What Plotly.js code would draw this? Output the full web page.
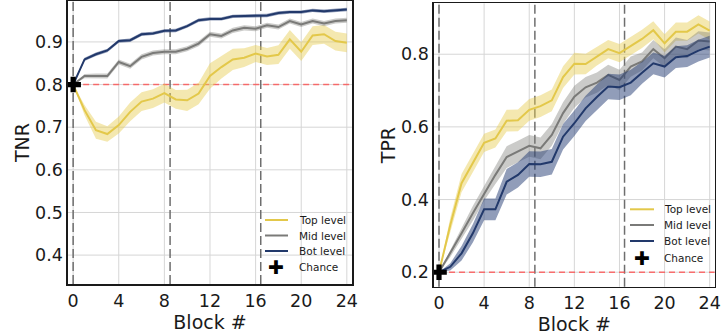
<!DOCTYPE html>
<html>
<head>
<meta charset="utf-8">
<script src="https://cdn.plot.ly/plotly-3.0.1.min.js"></script>
<style>
  html, body { margin: 0; padding: 0; background: #fff; }
  #chart { width: 722px; height: 335px; }
</style>
</head>
<body>
<div id="chart"></div>
<script>
// ---------- data ----------
const blocks = [0,1,2,3,4,5,6,7,8,9,10,11,12,13,14,15,16,17,18,19,20,21,22,23,24];

const tnrTop    = [0.800,0.740,0.693,0.684,0.705,0.736,0.760,0.767,0.780,0.765,0.763,0.779,0.820,0.841,0.859,0.863,0.873,0.866,0.870,0.906,0.877,0.915,0.918,0.902,0.898];
const tnrTopErr = [0.000,0.012,0.020,0.018,0.020,0.022,0.022,0.022,0.022,0.022,0.025,0.025,0.030,0.027,0.025,0.022,0.020,0.020,0.022,0.022,0.022,0.022,0.022,0.022,0.022];
const tnrMid    = [0.800,0.820,0.820,0.820,0.853,0.843,0.865,0.874,0.877,0.877,0.884,0.896,0.918,0.914,0.927,0.933,0.931,0.939,0.935,0.949,0.941,0.949,0.943,0.949,0.951];
const tnrMidErr = [0.000,0.005,0.006,0.006,0.006,0.006,0.006,0.006,0.006,0.006,0.006,0.006,0.006,0.006,0.006,0.006,0.006,0.006,0.006,0.006,0.006,0.006,0.006,0.006,0.006];
const tnrBot    = [0.800,0.859,0.871,0.880,0.902,0.904,0.918,0.920,0.926,0.927,0.937,0.951,0.954,0.954,0.960,0.961,0.962,0.962,0.968,0.970,0.970,0.974,0.972,0.974,0.976];
const tnrBotErr = [0.000,0.004,0.004,0.004,0.004,0.004,0.004,0.004,0.004,0.004,0.004,0.004,0.004,0.004,0.004,0.004,0.004,0.004,0.004,0.004,0.004,0.004,0.004,0.004,0.004];

const tprTop    = [0.200,0.330,0.445,0.500,0.556,0.568,0.617,0.618,0.647,0.657,0.673,0.737,0.774,0.773,0.794,0.814,0.803,0.822,0.842,0.866,0.830,0.862,0.862,0.882,0.865];
const tprTopErr = [0.000,0.020,0.025,0.025,0.025,0.025,0.030,0.030,0.030,0.030,0.030,0.030,0.030,0.028,0.025,0.025,0.025,0.025,0.025,0.025,0.025,0.025,0.025,0.025,0.025];
const tprMid    = [0.200,0.252,0.307,0.362,0.417,0.468,0.517,0.532,0.548,0.541,0.578,0.638,0.683,0.709,0.722,0.743,0.729,0.766,0.780,0.814,0.789,0.821,0.814,0.838,0.835];
const tprMidErr = [0.000,0.010,0.015,0.020,0.020,0.025,0.030,0.030,0.030,0.030,0.030,0.030,0.030,0.028,0.028,0.028,0.028,0.028,0.025,0.025,0.025,0.025,0.025,0.025,0.025];
const tprBot    = [0.200,0.215,0.252,0.307,0.373,0.373,0.449,0.468,0.498,0.497,0.504,0.573,0.610,0.651,0.682,0.711,0.709,0.722,0.749,0.775,0.766,0.792,0.795,0.810,0.821];
const tprBotErr = [0.000,0.010,0.020,0.025,0.030,0.030,0.035,0.035,0.035,0.035,0.035,0.035,0.035,0.035,0.035,0.035,0.035,0.035,0.030,0.030,0.030,0.030,0.030,0.030,0.030];

const seriesNames = ['Top level', 'Mid level', 'Bot level'];
const chanceName = 'Chance';
const chanceTNR = 0.8;
const chanceTPR = 0.2;
const phaseBoundaries = [0, 8.5, 16.45];
const xTicks = [0, 4, 8, 12, 16, 20, 24];
const tnrTicks = [0.4, 0.5, 0.6, 0.7, 0.8, 0.9];
const tprTicks = [0.2, 0.4, 0.6, 0.8];

// ---------- styles ----------
const W = 722, H = 335;
const lineColors = ['#e3c84a', '#7a7a78', '#22396b'];
const bandColors = ['rgba(230,205,80,0.45)', 'rgba(125,125,120,0.40)', 'rgba(35,60,115,0.50)'];
const FONT = 'DejaVu Sans, sans-serif';
const INK = '#1a1a1a';

function bandTrace(x, y, err, color, xa, ya) {
  const up = y.map((v, i) => v + err[i]);
  const lo = y.map((v, i) => v - err[i]);
  return {
    x: x.concat(x.slice().reverse()),
    y: up.concat(lo.slice().reverse()),
    xaxis: xa, yaxis: ya,
    type: 'scatter', mode: 'lines', fill: 'toself',
    fillcolor: color, line: {width: 0}, hoverinfo: 'skip', showlegend: false
  };
}
function lineTrace(x, y, name, color, xa, ya) {
  return {
    x: x, y: y, name: name, xaxis: xa, yaxis: ya, showlegend: false,
    type: 'scatter', mode: 'lines', line: {color: color, width: 2}
  };
}

const traces = [];
const tnrSets = [[tnrTop, tnrTopErr], [tnrMid, tnrMidErr], [tnrBot, tnrBotErr]];
const tprSets = [[tprTop, tprTopErr], [tprMid, tprMidErr], [tprBot, tprBotErr]];
tnrSets.forEach((s, i) => {
  traces.push(bandTrace(blocks, s[0], s[1], bandColors[i], 'x', 'y'));
  traces.push(lineTrace(blocks, s[0], seriesNames[i], lineColors[i], 'x', 'y'));
});
traces.push({x: [blocks[0]], y: [chanceTNR], name: chanceName, xaxis: 'x', yaxis: 'y', showlegend: false,
  type: 'scatter', mode: 'markers', marker: {symbol: 'cross', size: 13, color: '#000'}});
tprSets.forEach((s, i) => {
  traces.push(bandTrace(blocks, s[0], s[1], bandColors[i], 'x2', 'y2'));
  traces.push(lineTrace(blocks, s[0], seriesNames[i], lineColors[i], 'x2', 'y2'));
});
traces.push({x: [blocks[0]], y: [chanceTPR], name: chanceName, xaxis: 'x2', yaxis: 'y2', showlegend: false,
  type: 'scatter', mode: 'markers', marker: {symbol: 'cross', size: 13, color: '#000'}});

function xAxis(domain, anchor) {
  return {
    domain: domain, anchor: anchor, range: [-0.45, 24.45],
    tickmode: 'array', tickvals: xTicks, ticks: '', ticklabeloverflow: 'allow',
    showgrid: false, zeroline: false,
    showline: true, mirror: true, linecolor: INK, linewidth: 1.6,
    tickfont: {family: FONT, size: 17.5, color: INK},
    title: {text: 'Block #', font: {family: FONT, size: 19, color: INK}, standoff: 0}
  };
}
function yAxis(domain, anchor, range, ticks, title) {
  return {
    domain: domain, anchor: anchor, range: range,
    tickmode: 'array', tickvals: ticks, ticks: '', ticklabeloverflow: 'allow',
    showgrid: false, zeroline: false,
    showline: true, mirror: true, linecolor: INK, linewidth: 1.6,
    tickfont: {family: FONT, size: 17.5, color: INK},
    title: {text: title, font: {family: FONT, size: 19, color: INK}, standoff: 0}
  };
}

// ---------- grid, phase boundaries and chance line (drawn below the data) ----------
const shapes = [];
const annotations = [];
const panels = [
  {xa: 'x', ya: 'y', yTicks: tnrTicks, chance: chanceTNR},
  {xa: 'x2', ya: 'y2', yTicks: tprTicks, chance: chanceTPR}
];
panels.forEach(p => {
  xTicks.forEach(t => shapes.push({
    type: 'line', xref: p.xa, yref: p.ya + ' domain', x0: t, x1: t, y0: 0, y1: 1,
    line: {color: '#d6d6d6', width: 1}, layer: 'below'
  }));
  p.yTicks.forEach(t => shapes.push({
    type: 'line', xref: p.xa + ' domain', yref: p.ya, x0: 0, x1: 1, y0: t, y1: t,
    line: {color: '#d6d6d6', width: 1}, layer: 'below'
  }));
  phaseBoundaries.forEach(b => shapes.push({
    type: 'line', xref: p.xa, yref: p.ya + ' domain', x0: b, x1: b, y0: 0, y1: 1,
    line: {color: '#6e6e6e', width: 1.5, dash: '9px,4px'}, layer: 'below'
  }));
  shapes.push({
    type: 'line', xref: p.xa, yref: p.ya, x0: blocks[0], x1: 24.45, y0: p.chance, y1: p.chance,
    line: {color: 'rgba(255,70,70,0.75)', width: 1.5, dash: '6px,4px'}, layer: 'below'
  });
});

// ---------- legends (frameless, lower right of each panel) ----------
const legendBoxes = [
  {lineX0: 265, lineX1: 288, textX: 297, markX: 276, rows: [220, 235.5, 251, 267]},
  {lineX0: 630, lineX1: 654, textX: 662, markX: 642, rows: [209.3, 225, 241, 257.7]}
];
legendBoxes.forEach(lb => {
  seriesNames.forEach((name, i) => {
    shapes.push({
      type: 'line', xref: 'paper', yref: 'paper',
      x0: lb.lineX0 / W, x1: lb.lineX1 / W, y0: 1 - lb.rows[i] / H, y1: 1 - lb.rows[i] / H,
      line: {color: lineColors[i], width: 2}, layer: 'above'
    });
    annotations.push({
      xref: 'paper', yref: 'paper', x: lb.textX / W, y: 1 - lb.rows[i] / H,
      xanchor: 'left', yanchor: 'middle', showarrow: false, text: name,
      font: {family: FONT, size: 10.5, color: INK}
    });
  });
  annotations.push({
    xref: 'paper', yref: 'paper', x: lb.markX / W, y: 1 - lb.rows[3] / H,
    xanchor: 'center', yanchor: 'middle', showarrow: false, text: '\u271A',
    font: {family: FONT, size: 19, color: '#000'}
  });
  annotations.push({
    xref: 'paper', yref: 'paper', x: lb.textX / W, y: 1 - lb.rows[3] / H,
    xanchor: 'left', yanchor: 'middle', showarrow: false, text: chanceName,
    font: {family: FONT, size: 10.5, color: INK}
  });
});

const layout = {
  width: W, height: H,
  margin: {l: 0, r: 0, t: 0, b: 0},
  paper_bgcolor: '#fff', plot_bgcolor: '#fff',
  showlegend: false,
  xaxis: xAxis([0.0942, 0.4875], 'y'),
  yaxis: yAxis([0.152, 0.997], 'x', [0.332, 0.996], tnrTicks, 'TNR'),
  xaxis2: xAxis([0.601, 0.99], 'y2'),
  yaxis2: yAxis([0.144, 0.990], 'x2', [0.160, 0.940], tprTicks, 'TPR'),
  shapes: shapes,
  annotations: annotations
};

Plotly.newPlot('chart', traces, layout, {displayModeBar: false, staticPlot: true});
</script>
</body>
</html>
